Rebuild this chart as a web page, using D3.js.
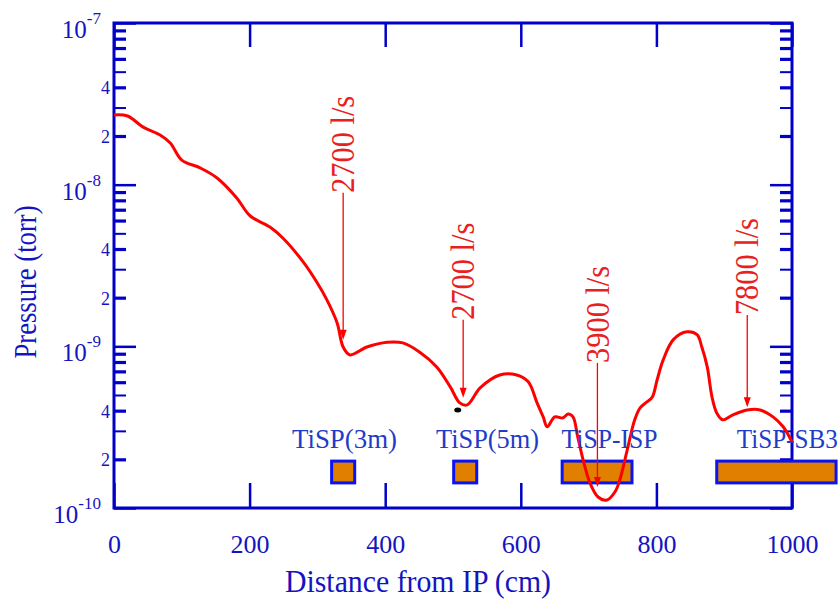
<!DOCTYPE html>
<html><head><meta charset="utf-8">
<script src="https://cdn.jsdelivr.net/npm/d3@7"></script>
<style>body{margin:0;background:#fff}svg{display:block}</style>
</head><body>
<svg id="c" width="840" height="601"></svg>
<script>
// ---- data ----
const distance = [0, 20, 43, 68, 83, 100, 127, 152, 181, 201, 230, 249, 279, 299, 314, 329, 338, 348,
  373, 403, 426, 451, 476, 496, 510, 521, 540, 569, 594, 611, 624, 633, 639, 650, 662, 670, 677,
  684, 692, 702, 714, 727, 739, 746, 757, 768, 776, 786, 794, 801, 810, 825, 845, 860, 867, 875,
  882, 889, 898, 913, 934, 953, 972, 987, 1000];
const pressure = [2.70e-8, 2.66e-8, 2.27e-8, 2.03e-8, 1.81e-8, 1.42e-8, 1.27e-8, 1.10e-8, 8.28e-9,
  6.40e-9, 5.47e-9, 4.68e-9, 3.33e-9, 2.50e-9, 1.94e-9, 1.40e-9, 9.9e-10, 8.85e-10,
  9.9e-10, 1.06e-9, 1.05e-9, 9.2e-10, 7.46e-10, 5.61e-10, 4.47e-10, 4.34e-10, 5.53e-10, 6.65e-10,
  6.65e-10, 6.03e-10, 4.47e-10, 3.66e-10, 3.18e-10, 3.66e-10, 3.61e-10, 3.82e-10, 3.66e-10,
  2.75e-10, 1.98e-10, 1.43e-10, 1.17e-10, 1.12e-10, 1.26e-10, 1.49e-10, 2.29e-10, 3.51e-10,
  4.16e-10, 4.53e-10, 4.86e-10, 6.19e-10, 8.24e-10, 1.10e-9, 1.23e-9, 1.18e-9, 9.9e-10, 7.46e-10,
  4.86e-10, 3.87e-10, 3.51e-10, 3.77e-10, 4.04e-10, 4.04e-10, 3.66e-10, 3.18e-10, 2.56e-10];

const xTicks = [0, 200, 400, 600, 800, 1000];
const yDecades = [1e-10, 1e-9, 1e-8, 1e-7];
const yDecadeExp = ["-10", "-9", "-8", "-7"];
const yMinorMult = [2, 3, 4, 5, 6, 7, 8, 9];
const yMinorLabelled = [2, 4];

const pumpLabels = ["TiSP(3m)", "TiSP(5m)", "TiSP-ISP", "TiSP-SB3"];
const pumpStart = [321, 501, 661, 889];
const pumpEnd = [355, 535, 764, 1065];
const pumpLabelX = [340, 551, 731, 993];
const pumpLow = 1.43e-10, pumpHigh = 1.95e-10, pumpLabelP = 2.45e-10;

const annotLabels = ["2700 l/s", "2700 l/s", "3900 l/s", "7800 l/s"];
const annotX = [338, 515, 713, 934];
const annotTail = [8.9e-9, 1.46e-9, 7.9e-10, 1.56e-9];
const annotTip = [1.10e-9, 4.8e-10, 1.35e-10, 4.2e-10];

const markerX = [507], markerP = [4.04e-10];

// ---- drawing ----
const blue = "#0000c8", tblue = "#1414c0", red = "#ff0000";
const svg = d3.select("#c");
const L = 114, R = 792, T = 23, B = 508;
const x = d3.scaleLinear().domain([0, 1000]).range([L, R]);
const y = d3.scaleLog().domain([1e-10, 1e-7]).range([B, T]);
const font = "Liberation Serif, Times New Roman, serif";

// minor tick values
const minorVals = [];
yDecades.slice(0, 3).forEach(d => yMinorMult.forEach(m => minorVals.push(d * m)));

// axes via d3
const gB = svg.append("g").attr("transform", `translate(0,${B})`)
  .call(d3.axisBottom(x).tickValues(xTicks).tickSizeInner(-25).tickSizeOuter(0).tickPadding(27).tickFormat(d3.format("d")));
const gTop = svg.append("g").attr("transform", `translate(0,${T})`)
  .call(d3.axisTop(x).tickValues(xTicks).tickSizeInner(-24).tickSizeOuter(0).tickFormat(""));
const gL = svg.append("g").attr("transform", `translate(${L},0)`)
  .call(d3.axisLeft(y).tickValues(yDecades).tickSizeInner(-22).tickSizeOuter(0).tickFormat(""));
const gLm = svg.append("g").attr("transform", `translate(${L},0)`)
  .call(d3.axisLeft(y).tickValues(minorVals).tickSizeInner(-12).tickSizeOuter(0).tickFormat(""));
const gR = svg.append("g").attr("transform", `translate(${R},0)`)
  .call(d3.axisRight(y).tickValues(yDecades).tickSizeInner(-22).tickSizeOuter(0).tickFormat(""));
const gRm = svg.append("g").attr("transform", `translate(${R},0)`)
  .call(d3.axisRight(y).tickValues(minorVals).tickSizeInner(-12).tickSizeOuter(0).tickFormat(""));
[gB, gTop, gL, gLm, gR, gRm].forEach(g => {
  g.select(".domain").remove();
  g.selectAll("line").attr("stroke", blue).attr("stroke-width", 2.5);
});
[gLm, gRm].forEach(g => g.selectAll(".tick line").attr("stroke-width", d => {
  const m = Math.round(d / Math.pow(10, Math.floor(Math.log10(d) + 1e-9)));
  return (m === 3 || m === 5) ? 2 : 3.2;
}));
gB.selectAll("text").attr("fill", tblue).attr("font-family", font).attr("font-size", 26);

// frame
svg.append("rect").attr("x", L).attr("y", T).attr("width", R - L).attr("height", B - T)
  .attr("fill", "none").attr("stroke", blue).attr("stroke-width", 3);

// decade labels
yDecades.forEach((d, i) => {
  const t = svg.append("text").attr("x", 101).attr("y", y(d) + 15).attr("text-anchor", "end")
    .attr("fill", tblue).attr("font-family", font).attr("font-size", 25);
  t.append("tspan").text("10");
  t.append("tspan").attr("dy", -14).attr("font-size", 17).text(yDecadeExp[i]);
});
// minor labels
yDecades.slice(0, 3).forEach(d => yMinorLabelled.forEach(m => {
  svg.append("text").attr("x", 110).attr("y", y(d * m) + 7).attr("text-anchor", "end")
    .attr("fill", tblue).attr("font-family", font).attr("font-size", 18).text(m);
}));

// axis titles
svg.append("text").attr("transform", "translate(36,282) rotate(-90)").attr("text-anchor", "middle")
  .attr("fill", tblue).attr("font-family", font).attr("font-size", 31)
  .attr("textLength", 153).attr("lengthAdjust", "spacingAndGlyphs").text("Pressure (torr)");
svg.append("text").attr("x", 418).attr("y", 592).attr("text-anchor", "middle")
  .attr("fill", tblue).attr("font-family", font).attr("font-size", 31)
  .attr("textLength", 266).attr("lengthAdjust", "spacingAndGlyphs").text("Distance from IP (cm)");

// pump boxes
pumpLabels.forEach((lab, i) => {
  svg.append("rect").attr("x", x(pumpStart[i])).attr("y", y(pumpHigh))
    .attr("width", x(pumpEnd[i]) - x(pumpStart[i])).attr("height", y(pumpLow) - y(pumpHigh))
    .attr("fill", "#e07f00").attr("stroke", "#0a14f0").attr("stroke-width", 3);
});

// curve
const pts = distance.map((d, i) => [d, pressure[i]]);
svg.append("path").datum(pts)
  .attr("d", d3.line().x(d => x(d[0])).y(d => y(d[1])).curve(d3.curveCatmullRom.alpha(0.5)))
  .attr("fill", "none").attr("stroke", red).attr("stroke-width", 3).attr("stroke-linejoin", "round");

// pump labels
const lblLen = [105, 103, 96, 101];
pumpLabels.forEach((lab, i) => {
  svg.append("text").attr("x", x(pumpLabelX[i])).attr("y", 448).attr("text-anchor", "middle")
    .attr("fill", "#1e3cc8").attr("font-family", font).attr("font-size", 27)
    .attr("textLength", lblLen[i]).attr("lengthAdjust", "spacingAndGlyphs").text(lab);
});

// marker
markerX.forEach((m, i) => svg.append("ellipse").attr("cx", x(m)).attr("cy", y(markerP[i]))
  .attr("rx", 3.5).attr("ry", 2.5).attr("fill", "#000"));

// annotations
annotLabels.forEach((lab, i) => {
  const ax = x(annotX[i]), y0 = y(annotTail[i]), y1 = y(annotTip[i]);
  svg.append("line").attr("x1", ax).attr("x2", ax).attr("y1", y0).attr("y2", y1 - 8)
    .attr("stroke", red).attr("stroke-width", 1.3);
  svg.append("path").attr("d", `M${ax - 3.5},${y1 - 10}L${ax + 3.5},${y1 - 10}L${ax},${y1}Z`).attr("fill", red);
  const len = 97;
  svg.append("text").attr("transform", `translate(${ax},${y0 - len / 2}) rotate(-90)`)
    .attr("text-anchor", "middle").attr("dy", "0.34em")
    .attr("fill", "#e82020").attr("font-family", font).attr("font-size", 33)
    .attr("textLength", len).attr("lengthAdjust", "spacingAndGlyphs").text(lab);
});
</script>
</body></html>
